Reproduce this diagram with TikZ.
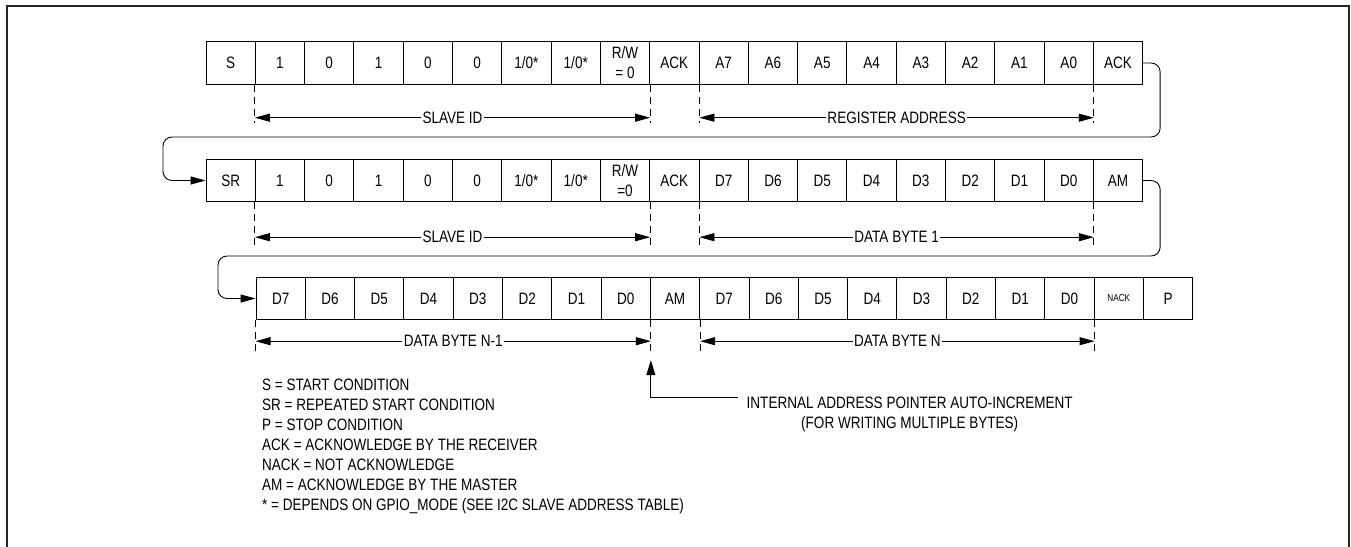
\documentclass[tikz,border=0pt]{standalone}
\usepackage{fontspec}
\setmainfont{Liberation Sans}[FakeStretch=0.82]
\usetikzlibrary{arrows.meta, positioning, calc}

\newcommand{\nackfont}{\fontsize{10}{12}\selectfont}

\begin{document}
\begin{tikzpicture}[
  x=1pt, y=-1pt,
  cell/.style={draw, line width=0.9pt, minimum width=49.3pt, minimum height=42.5pt, inner sep=0pt, align=center, font=\fontsize{16.5}{20}\selectfont},
  guide/.style={line width=0.9pt, dash pattern=on 7pt off 5pt},
  dim/.style={line width=0.9pt, {Triangle[length=15pt,width=8pt]}-{Triangle[length=15pt,width=8pt]}},
  dimlabel/.style={fill=white, inner sep=1.5pt, font=\fontsize{16.5}{20}\selectfont},
  flow/.style={line width=0.9pt, rounded corners=9pt, -{Triangle[length=15pt,width=8pt]}},
  note/.style={inner sep=0pt, font=\fontsize{16.5}{20}\selectfont}
]
  \useasboundingbox (0,0) rectangle (1351,546);

  % Outer frame (bottom edge lies below the page)
  \draw[line width=2pt, black!85] (6.5,560) -- (6.5,6) -- (1349,6) -- (1349,560);

  % Row 1: write slave ID and register address
  \foreach \lbl [count=\i from 0] in {S,1,0,1,0,0,{1/0*},{1/0*},{R/W\\= 0},ACK,A7,A6,A5,A4,A3,A2,A1,A0,ACK}
    \node[cell] (r1c\i) at ({206+(\i+0.5)*49.3}, 63) {\lbl};

  % Row 2: repeated start and first data byte
  \foreach \lbl [count=\i from 0] in {SR,1,0,1,0,0,{1/0*},{1/0*},{R/W\\=0},ACK,D7,D6,D5,D4,D3,D2,D1,D0,AM}
    \node[cell] (r2c\i) at ({206+(\i+0.5)*49.3}, 180.5) {\lbl};

  % Row 3: last data bytes and stop
  \foreach \lbl [count=\i from 0] in {D7,D6,D5,D4,D3,D2,D1,D0,AM,D7,D6,D5,D4,D3,D2,D1,D0,{\nackfont NACK},P}
    \node[cell] (r3c\i) at ({256+(\i+0.5)*49.3}, 298.5) {\lbl};

  % Dashed guides
  \foreach \c/\a in {r1c1/south west, r1c8/south east, r1c9/south east, r1c17/south east}
    \draw[guide] (\c.\a) -- ++(0,38);
  \foreach \c/\a in {r2c1/south west, r2c8/south east, r2c9/south east, r2c17/south east}
    \draw[guide] (\c.\a) -- ++(0,44);
  \foreach \c/\a in {r3c0/south west, r3c7/south east, r3c8/south east, r3c16/south east}
    \draw[guide] (\c.\a) -- ++(0,33);

  % Field spans
  \draw[dim] ([yshift=-33pt]r1c1.south west) -- node[dimlabel] {SLAVE ID} ([yshift=-33pt]r1c8.south east);
  \draw[dim] ([yshift=-33pt]r1c9.south east) -- node[dimlabel] {REGISTER ADDRESS} ([yshift=-33pt]r1c17.south east);
  \draw[dim] ([yshift=-35pt]r2c1.south west) -- node[dimlabel] {SLAVE ID} ([yshift=-35pt]r2c8.south east);
  \draw[dim] ([yshift=-35pt]r2c9.south east) -- node[dimlabel] {DATA BYTE 1} ([yshift=-35pt]r2c17.south east);
  \draw[dim] ([yshift=-21pt]r3c0.south west) -- node[dimlabel] {DATA BYTE N-1} ([yshift=-21pt]r3c7.south east);
  \draw[dim] ([yshift=-21pt]r3c8.south east) -- node[dimlabel] {DATA BYTE N} ([yshift=-21pt]r3c16.south east);

  % Row wrap-arounds
  \coordinate (bend1) at (163,137);
  \coordinate (bend2) at (218,256);
  \draw[flow] (r1c18.east) -- ++(17,0) |- (bend1) |- (r2c0.west);
  \draw[flow] (r2c18.east) -- ++(17,0) |- (bend2) |- (r3c0.west);

  % Auto-increment note
  \node[note, align=center, anchor=north west] (ptrnote) at (746.5,397) {INTERNAL ADDRESS POINTER AUTO-INCREMENT\\(FOR WRITING MULTIPLE BYTES)};
  \coordinate (ptrtip) at ([yshift=-40pt]r3c7.south east);
  \draw[line width=0.9pt, -{Triangle[length=15pt,width=9pt]}] ([xshift=-9pt]ptrnote.north west) -| (ptrtip);

  % Legend
  \node[note, align=left, anchor=north west] (legend) at (262,379) {S = START CONDITION\\
    SR = REPEATED START CONDITION\\
    P = STOP CONDITION\\
    ACK = ACKNOWLEDGE BY THE RECEIVER\\
    NACK = NOT ACKNOWLEDGE\\
    AM = ACKNOWLEDGE BY THE MASTER\\
    * = DEPENDS ON GPIO\_MODE (SEE I2C SLAVE ADDRESS TABLE)};
\end{tikzpicture}
\end{document}
